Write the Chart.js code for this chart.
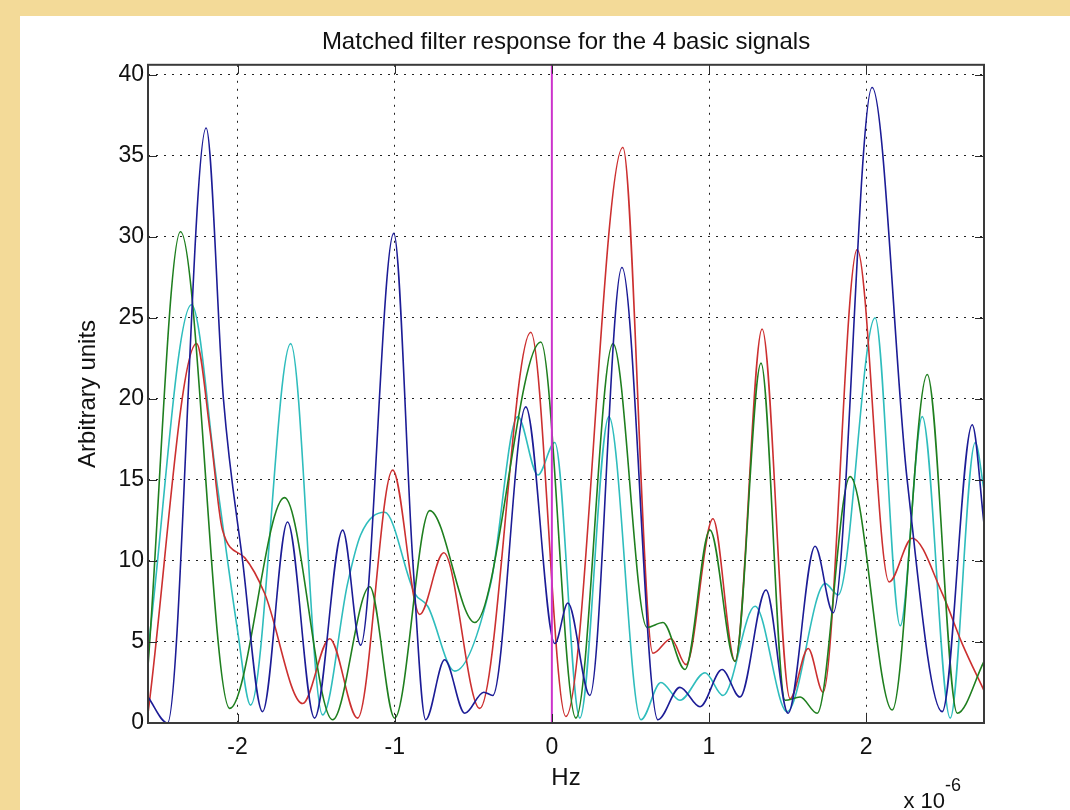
<!DOCTYPE html>
<html>
<head>
<meta charset="utf-8">
<script src="https://cdn.jsdelivr.net/npm/chart.js@4.4.1/dist/chart.umd.min.js"></script>
<style>
  html, body { margin: 0; padding: 0; }
  body { width: 1070px; height: 810px; background: #f3da98; position: relative; overflow: hidden; }
  #panel { position: absolute; left: 20px; top: 16px; right: 0; bottom: 0; background: #fff; }
  #chart { position: absolute; left: 0; top: 0; }
</style>
</head>
<body>
<div id="panel"></div>
<canvas id="chart" width="1070" height="810"></canvas>
<script>
// x values are in units of 1e-6 Hz (the axis shows "x 10^-6")
let blueX = [-2.57, -2.446, -2.20, -2.09, -1.968, -1.841, -1.682, -1.510, -1.331, -1.217, -1.006, -0.885, -0.803, -0.682, -0.554, -0.433, -0.376, -0.166, 0.019, 0.102, 0.242, 0.446, 0.675, 0.815, 0.943, 1.083, 1.197, 1.363, 1.503, 1.675, 1.790, 2.038, 2.261, 2.484, 2.675, 2.75];
let blueY = [1.6, 0, 36.7, 20, 10, 0.7, 12.4, 0.3, 11.9, 4.8, 30.2, 10, 0.2, 3.9, 0.6, 1.9, 1.7, 19.5, 4.9, 7.4, 1.7, 28.1, 0.2, 2.2, 1.0, 3.3, 1.6, 8.2, 0.6, 10.9, 6.8, 39.2, 15, 0.7, 18.4, 12.3];

let greenX = [-2.57, -2.363, -2.05, -1.701, -1.395, -1.159, -1.000, -0.777, -0.490, -0.070, 0.153, 0.389, 0.605, 0.707, 0.847, 1.006, 1.166, 1.331, 1.484, 1.580, 1.688, 1.898, 2.166, 2.389, 2.580, 2.75];
let greenY = [3.5, 30.3, 0.9, 13.9, 0.2, 8.4, 0.3, 13.1, 6.2, 23.5, 0.3, 23.4, 5.9, 6.2, 3.3, 11.9, 3.8, 22.2, 1.4, 1.6, 0.6, 15.2, 0.8, 21.5, 0.6, 3.8];

let redX = [-2.57, -2.261, -2.175, -2.096, -1.955, -1.828, -1.586, -1.414, -1.236, -1.013, -0.841, -0.688, -0.459, -0.134, 0.089, 0.452, 0.643, 0.758, 0.854, 1.025, 1.166, 1.338, 1.516, 1.631, 1.726, 1.943, 2.146, 2.293, 2.484, 2.611, 2.75];
let redY = [0.6, 23.4, 18, 11.9, 10.2, 8.0, 1.2, 5.2, 0.3, 15.6, 6.7, 10.5, 0.9, 24.1, 0.4, 35.5, 4.3, 5.2, 3.6, 12.6, 3.8, 24.3, 1.5, 4.6, 1.9, 29.2, 8.7, 11.4, 8.0, 4.9, 2.0];

let cyanX = [-2.57, -2.293, -2.134, -2.0, -1.917, -1.662, -1.459, -1.30, -1.217, -1.064, -0.873, -0.790, -0.618, -0.389, -0.217, -0.089, 0.019, 0.178, 0.363, 0.567, 0.694, 0.815, 0.975, 1.089, 1.293, 1.497, 1.739, 1.822, 2.057, 2.217, 2.357, 2.535, 2.694, 2.75];
let cyanY = [4.5, 25.8, 15, 5.7, 1.1, 23.4, 0.5, 8.6, 11.6, 13.0, 8.0, 7.2, 3.2, 8.6, 18.9, 15.3, 17.3, 0.3, 18.9, 0.2, 2.5, 1.4, 3.1, 1.7, 7.2, 0.7, 8.6, 7.9, 25.0, 6.0, 18.9, 0.3, 17.3, 14.4];

// vertical marker at 0 Hz
let markerX = [0, 0];
let markerY = [0, 40.6];

let xMin = -2.57;
let xMax = 2.75;
let yMin = 0;
let yMax = 40.6;

function toPoints(xs, ys) {
  return xs.map((x, i) => ({ x: x, y: ys[i] }));
}

function curve(label, xs, ys, color) {
  return {
    label: label,
    data: toPoints(xs, ys),
    borderColor: color,
    borderWidth: 1.6,
    pointRadius: 0,
    fill: false,
    cubicInterpolationMode: "monotone",
  };
}

let fontFamily = "'Liberation Sans', Arial, sans-serif";

// MATLAB style box with inward tick marks, plus the x10^-6 exponent
let axesBox = {
  id: "axesBox",
  afterDatasetsDraw(chart) {
    let ctx = chart.ctx;
    let a = chart.chartArea;
    let xs = chart.scales.x;
    let ys = chart.scales.y;
    let len = 9;
    ctx.save();
    ctx.strokeStyle = "#2a2a2a";
    ctx.lineWidth = 1;
    ctx.beginPath();
    xs.ticks.forEach((t) => {
      let px = Math.round(xs.getPixelForValue(t.value)) + 0.5;
      ctx.moveTo(px, a.bottom);
      ctx.lineTo(px, a.bottom - len);
      ctx.moveTo(px, a.top);
      ctx.lineTo(px, a.top + len);
    });
    ys.ticks.forEach((t) => {
      let py = Math.round(ys.getPixelForValue(t.value)) + 0.5;
      ctx.moveTo(a.left, py);
      ctx.lineTo(a.left + len, py);
      ctx.moveTo(a.right, py);
      ctx.lineTo(a.right - len, py);
    });
    ctx.stroke();
    ctx.lineWidth = 2;
    ctx.strokeStyle = "#3a3a3a";
    ctx.strokeRect(a.left, a.top, a.right - a.left, a.bottom - a.top);

    ctx.fillStyle = "#111";
    ctx.textBaseline = "alphabetic";
    ctx.textAlign = "right";
    ctx.font = "22px " + fontFamily;
    ctx.fillText("x 10", a.right - 39, 808);
    ctx.textAlign = "left";
    ctx.font = "18px " + fontFamily;
    ctx.fillText("-6", a.right - 39, 791);
    ctx.restore();
  },
};

let filterChart = new Chart("chart", {
  type: "line",
  data: {
    datasets: [
      {
        label: "0 Hz",
        data: toPoints(markerX, markerY),
        borderColor: "#cc33cc",
        borderWidth: 2,
        pointRadius: 0,
        tension: 0,
        order: 0,
      },
      curve("signal 1", blueX, blueY, "#1c1c96"),
      curve("signal 2", greenX, greenY, "#1f7f1f"),
      curve("signal 3", redX, redY, "#cc3030"),
      curve("signal 4", cyanX, cyanY, "#2fbdbd"),
    ],
  },
  options: {
    responsive: false,
    animation: false,
    devicePixelRatio: 1,
    layout: {
      padding: { left: 20, right: 86, top: 0, bottom: 0 },
    },
    plugins: {
      legend: { display: false },
      tooltip: { enabled: false },
      title: {
        display: true,
        fullSize: false,
        text: "Matched filter response for the 4 basic signals",
        color: "#111",
        font: { family: fontFamily, size: 24, weight: "normal" },
        padding: { top: 28, bottom: 8 },
      },
    },
    scales: {
      x: {
        type: "linear",
        min: xMin,
        max: xMax,
        afterFit: (scale) => {
          scale.height = 87;
        },
        ticks: {
          stepSize: 1,
          includeBounds: false,
          color: "#111",
          padding: 11,
          font: { family: fontFamily, size: 23 },
        },
        grid: {
          color: "#222",
          lineWidth: 1,
          drawTicks: false,
        },
        border: { display: false, dash: [2, 6] },
        title: {
          display: true,
          text: "Hz",
          color: "#111",
          font: { family: fontFamily, size: 24 },
          padding: { top: 0, bottom: 17 },
        },
      },
      y: {
        type: "linear",
        min: yMin,
        max: yMax,
        afterFit: (scale) => {
          scale.width = 128;
        },
        ticks: {
          stepSize: 5,
          includeBounds: false,
          color: "#111",
          padding: 4,
          font: { family: fontFamily, size: 23 },
        },
        grid: {
          color: "#222",
          lineWidth: 1,
          drawTicks: false,
        },
        border: { display: false, dash: [2, 6] },
        title: {
          display: true,
          text: "Arbitrary units",
          color: "#111",
          font: { family: fontFamily, size: 24 },
          padding: { top: 54, bottom: 0 },
        },
      },
    },
  },
  plugins: [axesBox],
});
</script>
</body>
</html>
